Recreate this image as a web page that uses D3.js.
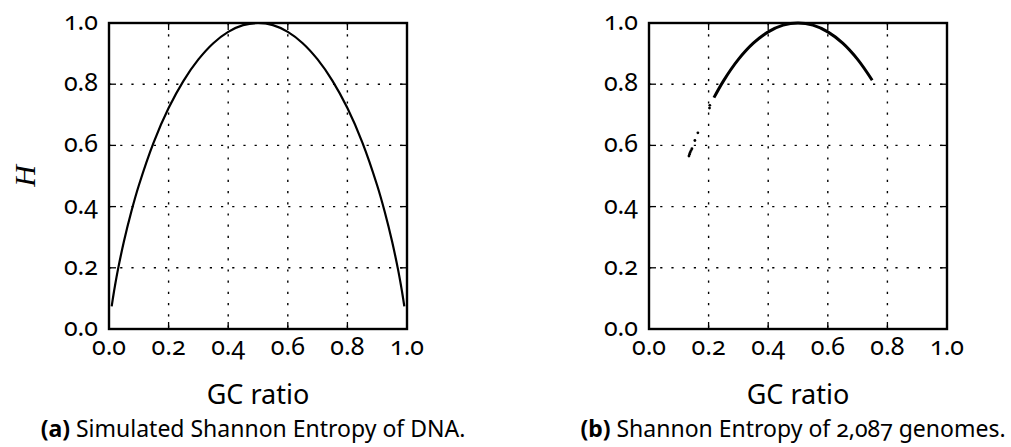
<!DOCTYPE html>
<html>
<head>
<meta charset="utf-8">
<script src="https://cdn.jsdelivr.net/npm/d3@7"></script>
<style>
  body { margin: 0; background: #fff; }
  .tick-label { font-family: "Noto Sans", "Open Sans", sans-serif; font-size: 25px; font-variant-numeric: oldstyle-nums; fill: #000; }
  .axis-title { font-family: "Noto Sans", "Open Sans", sans-serif; font-size: 27px; fill: #000; }
  .caption { font-family: "Noto Sans", "Open Sans", sans-serif; font-size: 23px; font-variant-numeric: oldstyle-nums; fill: #000; }
</style>
</head>
<body>
<svg id="mainsvg" width="1011" height="447"></svg>
<script>
(function () {
  // 刻度
  const xTicks = [0, 0.2, 0.4, 0.6, 0.8, 1.0];
  const yTicks = [0, 0.2, 0.4, 0.6, 0.8, 1.0];
  const xTickLabels = ['0.0', '0.2', '0.4', '0.6', '0.8', '1.0'];
  const yTickLabels = ['0.0', '0.2', '0.4', '0.6', '0.8', '1.0'];

  // (a) 模拟曲线
  const gcA = [0.009, 0.015, 0.02, 0.03, 0.05, 0.075, 0.1, 0.15, 0.2, 0.25, 0.3, 0.35, 0.4, 0.45, 0.5,
    0.55, 0.6, 0.65, 0.7, 0.75, 0.8, 0.85, 0.9, 0.925, 0.95, 0.97, 0.98, 0.985, 0.991];
  const hA = [0.074, 0.112, 0.141, 0.194, 0.286, 0.384, 0.469, 0.61, 0.722, 0.811, 0.881, 0.934, 0.971, 0.993, 1.0,
    0.993, 0.971, 0.934, 0.881, 0.811, 0.722, 0.61, 0.469, 0.384, 0.286, 0.194, 0.141, 0.112, 0.074];

  // (b) 基因组：主弧线和零散点
  const gcB = [0.218, 0.25, 0.3, 0.35, 0.4, 0.45, 0.5, 0.55, 0.6, 0.65, 0.7, 0.749];
  const hB = [0.756, 0.811, 0.881, 0.934, 0.971, 0.993, 1.0, 0.993, 0.971, 0.934, 0.881, 0.813];
  const gcDots = [0.134, 0.136, 0.138, 0.141, 0.144, 0.154, 0.164, 0.203, 0.204];
  const hDots = [0.565, 0.571, 0.577, 0.583, 0.589, 0.616, 0.641, 0.722, 0.731];

  const captions = [
    { bold: '(a)', text: ' Simulated Shannon Entropy of DNA.' },
    { bold: '(b)', text: ' Shannon Entropy of 2,087 genomes.' },
  ];

  const svg = d3.select('#mainsvg'),
    plotW = 298,
    plotH = 306,
    top = 23,
    lefts = [109, 649];

  const xScale = d3.scaleLinear().domain([0, 1]).range([0, plotW]);
  const yScale = d3.scaleLinear().domain([0, 1]).range([plotH, 0]);

  function drawFrame(g) {
    // 网格
    g.selectAll('.vgrid').data(xTicks.slice(1, -1)).join('line')
      .attr('x1', d => xScale(d)).attr('x2', d => xScale(d))
      .attr('y1', 0).attr('y2', plotH)
      .attr('stroke', '#000').attr('stroke-width', 1.4)
      .attr('stroke-dasharray', '2.2,9');
    g.selectAll('.hgrid').data(yTicks.slice(1, -1)).join('line')
      .attr('y1', d => yScale(d)).attr('y2', d => yScale(d))
      .attr('x1', 0).attr('x2', plotW)
      .attr('stroke', '#000').attr('stroke-width', 1.4)
      .attr('stroke-dasharray', '2.2,9');

    // 内刻度（四边）
    const t = 7;
    xTicks.slice(1, -1).forEach(d => {
      g.append('line').attr('x1', xScale(d)).attr('x2', xScale(d)).attr('y1', plotH).attr('y2', plotH - t)
        .attr('stroke', '#000').attr('stroke-width', 1.3);
      g.append('line').attr('x1', xScale(d)).attr('x2', xScale(d)).attr('y1', 0).attr('y2', t)
        .attr('stroke', '#000').attr('stroke-width', 1.3);
    });
    yTicks.slice(1, -1).forEach(d => {
      g.append('line').attr('y1', yScale(d)).attr('y2', yScale(d)).attr('x1', 0).attr('x2', t)
        .attr('stroke', '#000').attr('stroke-width', 1.3);
      g.append('line').attr('y1', yScale(d)).attr('y2', yScale(d)).attr('x1', plotW).attr('x2', plotW - t)
        .attr('stroke', '#000').attr('stroke-width', 1.3);
    });

    // 刻度标签
    g.selectAll('.xl').data(xTicks).join('text')
      .attr('class', 'tick-label')
      .attr('x', d => xScale(d))
      .attr('y', plotH + 26)
      .attr('text-anchor', 'middle')
      .text((d, i) => xTickLabels[i]);
    g.selectAll('.yl').data(yTicks).join('text')
      .attr('class', 'tick-label')
      .attr('x', -11)
      .attr('y', d => yScale(d) + 7)
      .attr('text-anchor', 'end')
      .text((d, i) => yTickLabels[i]);

    g.append('text').attr('class', 'axis-title')
      .attr('x', plotW / 2).attr('y', plotH + 75)
      .attr('text-anchor', 'middle')
      .text('GC ratio');
  }

  const line = d3.line()
    .x(d => xScale(d[0]))
    .y(d => yScale(d[1]))
    .curve(d3.curveCatmullRom);

  // 面板 (a)
  const ga = svg.append('g').attr('transform', `translate(${lefts[0]}, ${top})`);
  drawFrame(ga);
  ga.append('path')
    .datum(gcA.map((x, i) => [x, hA[i]]))
    .attr('d', line)
    .attr('fill', 'none').attr('stroke', '#000').attr('stroke-width', 2.2);
  ga.append('rect').attr('width', plotW).attr('height', plotH)
    .attr('fill', 'none').attr('stroke', '#000').attr('stroke-width', 2.4);
  ga.append('text')
    .attr('transform', `translate(-85, ${plotH / 2}) rotate(-90)`)
    .attr('text-anchor', 'middle')
    .attr('dy', '0.35em')
    .attr('font-family', '"Liberation Serif", "DejaVu Serif", serif')
    .attr('font-style', 'italic')
    .attr('font-size', 30)
    .text('H');

  // 面板 (b)
  const gb = svg.append('g').attr('transform', `translate(${lefts[1]}, ${top})`);
  drawFrame(gb);
  gb.append('path')
    .datum(gcB.map((x, i) => [x, hB[i]]))
    .attr('d', line)
    .attr('fill', 'none').attr('stroke', '#000').attr('stroke-width', 3);
  gb.selectAll('.dot').data(gcDots.map((x, i) => [x, hDots[i]])).join('circle')
    .attr('cx', d => xScale(d[0])).attr('cy', d => yScale(d[1]))
    .attr('r', 1.4).attr('fill', '#000');
  gb.append('rect').attr('width', plotW).attr('height', plotH)
    .attr('fill', 'none').attr('stroke', '#000').attr('stroke-width', 2.4);

  // 标题
  captions.forEach((c, i) => {
    const t = svg.append('text').attr('class', 'caption')
      .attr('x', lefts[i] + plotW / 2 - 5)
      .attr('y', 437)
      .attr('text-anchor', 'middle');
    t.append('tspan').attr('font-weight', 'bold').text(c.bold);
    t.append('tspan').text(c.text);
  });
})();
</script>
</body>
</html>
